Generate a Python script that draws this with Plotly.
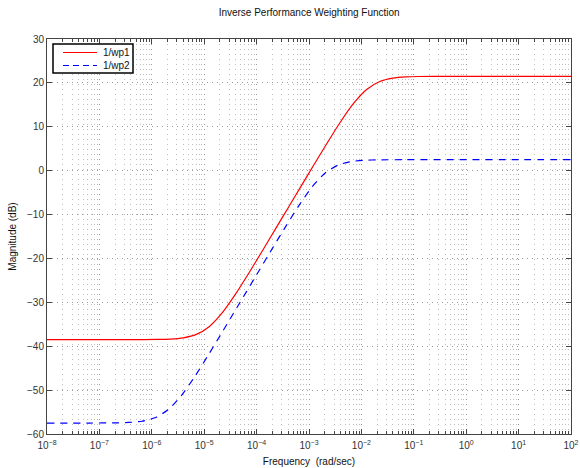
import plotly.graph_objects as go

# Frequency exponents (log10 rad/sec) and magnitudes (dB)
wp1_exp = [-8, -7, -6.4, -5.9, -5.65, -5.4, -5.15, -4.9, -4.65, -4.4, -4.15, -3.9,
           -3.65, -3.4, -3.15, -2.9, -2.65, -2.4, -2.15, -1.9, -1.65, -1.4, -1.15,
           -0.9, -0.4, 0, 1, 2]
wp1_db = [-38.5, -38.5, -38.5, -38.46, -38.37, -38.09, -37.31, -35.49, -32.31, -28.09,
          -23.37, -18.46, -13.49, -8.5, -3.51, 1.46, 6.37, 11.09, 15.31, 18.49, 20.31,
          21.09, 21.37, 21.46, 21.5, 21.5, 21.5, 21.5]

wp2_exp = [-8, -7.19, -6.69, -6.44, -6.19, -5.94, -5.69, -5.44, -5.19, -4.94, -4.69,
           -4.44, -4.19, -3.94, -3.69, -3.44, -3.19, -2.94, -2.69, -2.44, -2.19, -1.94,
           -1.69, -1.19, 0, 1, 2]
wp2_db = [-57.5, -57.5, -57.46, -57.37, -57.09, -56.31, -54.49, -51.31, -47.09, -42.37,
          -37.46, -32.49, -27.5, -22.51, -17.54, -12.63, -7.91, -3.69, -0.51, 1.31, 2.09,
          2.37, 2.46, 2.5, 2.5, 2.5, 2.5]

x_tick_exp = [-8, -7, -6, -5, -4, -3, -2, -1, 0, 1, 2]
x_tick_text = ["10<sup>%s</sup>" % (str(e).replace("-", "\u2212")) for e in x_tick_exp]
y_ticks = [30, 20, 10, 0, -10, -20, -30, -40, -50, -60]
series_names = ["1/wp1", "1/wp2"]

wp1_freq = [10 ** e for e in wp1_exp]
wp2_freq = [10 ** e for e in wp2_exp]
x_tick_vals = [10 ** e for e in x_tick_exp]
x_minor_vals = [k * 10 ** e for e in x_tick_exp[:-1] for k in range(2, 10)]

FONT = "Liberation Sans, Arial, Helvetica, sans-serif"
RED, BLUE = "#ff0000", "#0000ff"
BLUE_DASH = "7px,6px"

fig = go.Figure()
fig.add_trace(go.Scatter(x=wp1_freq, y=wp1_db, mode="lines", name=series_names[0],
                         showlegend=False,
                         line=dict(color=RED, width=1.2, shape="spline", smoothing=0.6)))
fig.add_trace(go.Scatter(x=wp2_freq, y=wp2_db, mode="lines", name=series_names[1],
                         showlegend=False,
                         line=dict(color=BLUE, width=1.2, dash=BLUE_DASH,
                                   shape="spline", smoothing=0.6)))

# Hand-drawn MATLAB-style legend box (pixel layout -> paper coords)
L, R, T, B = 47, 571, 39, 434
def px(x):
    return (x - L) / (R - L)
def py(y):
    return (B - y) / (B - T)

shapes = [
    dict(type="rect", xref="paper", yref="paper", x0=px(53), x1=px(133), y0=py(73), y1=py(44),
         line=dict(color="black", width=1.5), fillcolor="white", layer="above"),
    dict(type="line", xref="paper", yref="paper", x0=px(63), x1=px(97), y0=py(52.5), y1=py(52.5),
         line=dict(color=RED, width=1.2), layer="above"),
    dict(type="line", xref="paper", yref="paper", x0=px(63), x1=px(97), y0=py(65.5), y1=py(65.5),
         line=dict(color=BLUE, width=1.2, dash="6px,4px"), layer="above"),
]
annotations = [
    dict(text=series_names[0], xref="paper", yref="paper", x=px(101), y=py(52.5),
         xanchor="left", yanchor="middle", showarrow=False,
         font=dict(size=10, color="#111")),
    dict(text=series_names[1], xref="paper", yref="paper", x=px(101), y=py(65.5),
         xanchor="left", yanchor="middle", showarrow=False,
         font=dict(size=10, color="#111")),
]

grid_major = "#9a9a9a"
grid_minor = "#bdbdbd"
GRID_DASH = "1px,4px"
fig.update_layout(
    width=580, height=468,
    margin=dict(l=L, r=580 - R, t=T, b=468 - B, autoexpand=False),
    paper_bgcolor="white", plot_bgcolor="white",
    font=dict(family=FONT, size=10, color="#222"),
    title=dict(text="Inverse Performance Weighting Function", x=0.533, xanchor="center",
               y=0.974, yanchor="middle", font=dict(size=10, color="#111")),
    showlegend=False,
    shapes=shapes,
    annotations=annotations,
    xaxis=dict(type="log", range=[-8, 2], tickmode="array", tickvals=x_tick_vals,
               ticktext=x_tick_text, automargin=False, ticklabelstandoff=2,
               showline=True, linecolor="#444", linewidth=1, mirror="allticks",
               ticks="inside", ticklen=5, tickcolor="#444",
               showgrid=True, gridcolor=grid_major, griddash=GRID_DASH, gridwidth=1,
               minor=dict(tickmode="array", tickvals=x_minor_vals, ticks="inside",
                          ticklen=3, tickcolor="#444",
                          showgrid=True, gridcolor=grid_minor, griddash=GRID_DASH, gridwidth=1),
               zeroline=False,
               tickfont=dict(size=10, color="#333"),
               title=dict(text="Frequency\u00a0\u00a0(rad/sec)", standoff=7,
                          font=dict(size=10, color="#111"))),
    yaxis=dict(range=[-60, 30], tickvals=y_ticks, automargin=False,
               showline=True, linecolor="#444", linewidth=1, mirror="allticks",
               ticks="inside", ticklen=5, tickcolor="#444",
               showgrid=True, gridcolor=grid_major, griddash=GRID_DASH, gridwidth=1,
               zeroline=False,
               tickfont=dict(size=10, color="#333"),
               title=dict(text="Magnitude (dB)", standoff=8,
                          font=dict(size=10, color="#111"))),
)

fig.write_html("out.html")
